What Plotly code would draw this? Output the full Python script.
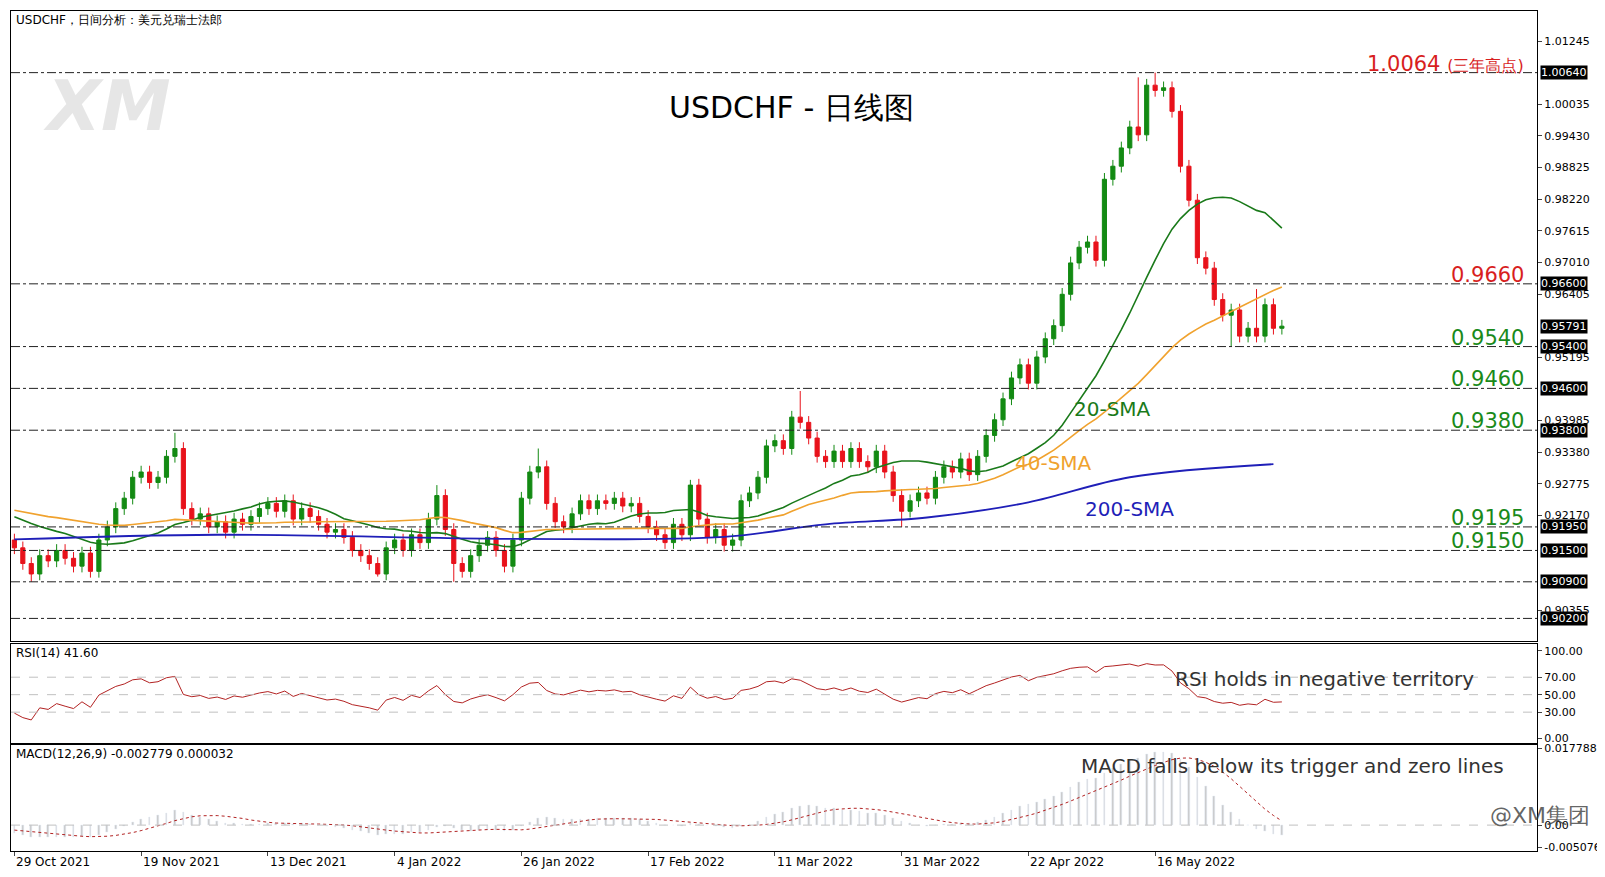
import numpy as np
import plotly.graph_objects as go
from plotly.subplots import make_subplots

prior_closes = [0.9260,0.9250,0.9240,0.9255,0.9245,0.9230,0.9240,0.9250,0.9235,0.9225,
                0.9240,0.9250,0.9260,0.9245,0.9230,0.9240,0.9225,0.9215,0.9230,0.9240,
                0.9250,0.9235,0.9245,0.9255,0.9240,0.9230,0.9220,0.9235,0.9245,0.9230,
                0.9225,0.9215,0.9205,0.9220,0.9210,0.9200,0.9190,0.9185,0.9175,0.9170]
closes = [0.9155,0.9125,0.9105,0.9140,0.9130,0.9150,0.9135,0.9120,0.9145,0.9110,
          0.9170,0.9195,0.9230,0.9250,0.9290,0.9300,0.9280,0.9290,0.9330,0.9345,
          0.9230,0.9210,0.9220,0.9195,0.9205,0.9185,0.9210,0.9200,0.9215,0.9230,
          0.9240,0.9225,0.9245,0.9210,0.9230,0.9215,0.9200,0.9185,0.9190,0.9175,
          0.9150,0.9140,0.9125,0.9105,0.9155,0.9170,0.9150,0.9180,0.9165,0.9210,
          0.9255,0.9190,0.9125,0.9110,0.9140,0.9160,0.9175,0.9150,0.9120,0.9170,
          0.9250,0.9300,0.9310,0.9240,0.9205,0.9195,0.9220,0.9245,0.9230,0.9245,
          0.9240,0.9250,0.9235,0.9240,0.9215,0.9195,0.9180,0.9165,0.9200,0.9180,
          0.9275,0.9210,0.9175,0.9190,0.9160,0.9170,0.9245,0.9260,0.9290,0.9350,
          0.9360,0.9345,0.9405,0.9395,0.9365,0.9330,0.9320,0.9340,0.9320,0.9345,
          0.9320,0.9310,0.9340,0.9300,0.9255,0.9225,0.9245,0.9260,0.9250,0.9290,
          0.9310,0.9300,0.9325,0.9295,0.9330,0.9370,0.9400,0.9440,0.9480,0.9505,
          0.9470,0.9520,0.9555,0.9580,0.9640,0.9700,0.9730,0.9740,0.9705,0.9860,
          0.9885,0.9920,0.9960,0.9945,1.0040,1.0030,1.0035,0.9990,0.9885,0.9820,
          0.9710,0.9690,0.9630,0.9600,0.9610,0.9560,0.9575,0.9560,0.9620,0.9575,
          0.9579]
high_override = {19: 0.9375, 93: 0.9455, 135: 1.0064, 50: 0.9275, 62: 0.9345, 80: 0.9285, 133: 1.0055, 147: 0.9650}
low_override = {2: 0.9090, 43: 0.9100, 52: 0.9090, 105: 0.9195, 144: 0.9540}
wick = 0.0012
sma200_idx = [0, 24, 60, 84, 96, 108, 120, 132, 149]
sma200_val = [0.9171, 0.9180, 0.9172, 0.9176, 0.9200, 0.9213, 0.9242, 0.9290, 0.9315]
levels = [1.0064, 0.9660, 0.9540, 0.9460, 0.9380, 0.9195, 0.9150, 0.9090, 0.9020]
level_text = {1.0064: "1.0064 <span style='font-size:16px'>(三年高点)</span>", 0.9660: "0.9660", 0.9540: "0.9540",
              0.9460: "0.9460", 0.9380: "0.9380", 0.9195: "0.9195", 0.9150: "0.9150"}
price_ticks = [1.01245, 1.00035, 0.99430, 0.98825, 0.98220, 0.97615, 0.97010, 0.96405,
               0.95195, 0.93985, 0.93380, 0.92775, 0.92170, 0.90355]
tick_pos = [0, 15, 30, 45, 60, 75, 90, 105, 120, 135]
tick_labels = ["29 Oct 2021", "19 Nov 2021", "13 Dec 2021", "4 Jan 2022", "26 Jan 2022",
               "17 Feb 2022", "11 Mar 2022", "31 Mar 2022", "22 Apr 2022", "16 May 2022"]

allc = np.array(prior_closes + closes)
n = len(closes)
x = np.arange(n)
opens = [allc[len(prior_closes)-1 + i] for i in range(n)]
highs = [high_override.get(i, max(opens[i], closes[i]) + wick) for i in range(n)]
lows = [low_override.get(i, min(opens[i], closes[i]) - wick) for i in range(n)]

def sma(p):
    s = np.convolve(allc, np.ones(p)/p, mode='full')[:len(allc)]
    return s[len(prior_closes):]
sma20, sma40 = sma(20), sma(40)

d = np.diff(allc)
g = np.where(d > 0, d, 0); l = np.where(d < 0, -d, 0)
ag, al = g[:14].mean(), l[:14].mean(); rsi_all = []
for i in range(14, len(d)):
    ag = (ag*13 + g[i])/14; al = (al*13 + l[i])/14
    rsi_all.append(100 - 100/(1 + ag/max(al, 1e-9)))
rsi = np.array(rsi_all)[-n:]

def ema(a, p):
    k = 2/(p+1); out = [a[0]]
    for v in a[1:]: out.append(out[-1] + k*(v - out[-1]))
    return np.array(out)
macd_all = ema(allc, 12) - ema(allc, 26)
sig_all = np.convolve(macd_all, np.ones(9)/9, mode='full')[:len(allc)]
macd = macd_all[-n:]; sig = sig_all[-n:]

Wpx = 1526
barpx = 8.45
fig = make_subplots(rows=3, cols=1, shared_xaxes=True, vertical_spacing=0.003,
                    row_heights=[632, 99, 106])
fig.add_trace(go.Candlestick(x=x, open=opens, high=highs, low=lows, close=closes,
              increasing=dict(line=dict(color="#138a13", width=1), fillcolor="#138a13"),
              decreasing=dict(line=dict(color="#e8121b", width=1), fillcolor="#e8121b"),
              whiskerwidth=0, showlegend=False), row=1, col=1)
fig.add_trace(go.Scatter(x=x, y=sma20, mode="lines", line=dict(color="#1a7a1a", width=1.6), showlegend=False), row=1, col=1)
fig.add_trace(go.Scatter(x=x, y=sma40, mode="lines", line=dict(color="#f0a22e", width=1.6), showlegend=False), row=1, col=1)
fig.add_trace(go.Scatter(x=sma200_idx, y=sma200_val, mode="lines", line=dict(color="#1f1fb8", width=1.8, shape="spline"), showlegend=False), row=1, col=1)
for lv in levels:
    fig.add_hline(y=lv, line=dict(color="#222", width=1, dash="dashdot"), row=1, col=1)
fig.add_trace(go.Scatter(x=x, y=rsi, mode="lines", line=dict(color="#b22222", width=1), showlegend=False), row=2, col=1)
for lv in [70, 50, 30]:
    fig.add_hline(y=lv, line=dict(color="#c0c0c0", width=1, dash="dash"), row=2, col=1)
fig.add_trace(go.Bar(x=x, y=macd, marker_color="#c8c8c8", width=0.2, showlegend=False), row=3, col=1)
fig.add_trace(go.Scatter(x=x, y=sig, mode="lines", line=dict(color="#b22222", width=1, dash="dot"), showlegend=False), row=3, col=1)
fig.add_hline(y=0, line=dict(color="#c0c0c0", width=1, dash="dash"), row=3, col=1)

xr = [-0.4, Wpx/barpx - 0.4]
ax = dict(showgrid=False, zeroline=False, showline=True, linecolor="black", mirror=True, linewidth=1, automargin=False)
for r in (1, 2, 3):
    fig.update_xaxes(range=xr, showticklabels=False, ticks="", rangeslider_visible=False, **ax, row=r, col=1)
fig.update_xaxes(tickvals=tick_pos, ticks="outside", ticklen=4, row=3, col=1)
tf = dict(size=11)
fig.update_yaxes(side="right", range=[0.89759, 1.01819], tickvals=price_ticks, tickfont=tf,
                 tickformat=".5f", ticks="outside", ticklen=4, **ax, row=1, col=1)
fig.update_yaxes(side="right", range=[-5, 108], tickvals=[100, 70, 50, 30, 0], tickformat=".2f", tickfont=tf,
                 ticks="outside", ticklen=4, **ax, row=2, col=1)
fig.update_yaxes(side="right", range=[-0.0060, 0.0185], tickvals=[0.017788, 0.0, -0.005076], tickfont=tf,
                 ticktext=["0.017788", "0.00", "-0.005076"], ticks="outside", ticklen=4, **ax, row=3, col=1)

ann = []
for p, t in zip(tick_pos, tick_labels):
    ann.append(dict(x=p, y=0, xref="x3", yref="paper", text=t, showarrow=False, xanchor="left",
                    yanchor="top", yshift=-2, font=dict(size=12)))
for lv in levels + [0.95791]:
    ann.append(dict(x=1.002, xref="paper", y=lv, yref="y", text=f"{lv:.5f}", showarrow=False, xanchor="left",
                    bgcolor="black", font=dict(color="white", size=11), borderpad=0))
for lv, t in level_text.items():
    col = "#d81e1e" if lv >= 0.966 else "#1a8a1a"
    ann.append(dict(x=0.993, xref="paper", y=lv, yref="y", text=t, showarrow=False, xanchor="right",
                    yanchor="bottom", yshift=-5, font=dict(color=col, size=21)))
ann += [
    dict(x=0.002, y=1, xref="paper", yref="paper", text="USDCHF，日间分析：美元兑瑞士法郎", showarrow=False,
         xanchor="left", yanchor="top", font=dict(size=12)),
    dict(x=11, y=1.0000, xref="x", yref="y", text="<b><i>XM</i></b>", showarrow=False,
         font=dict(size=70, color="rgba(200,200,200,0.45)")),
    dict(x=92, y=0.9998, xref="x", yref="y", text="USDCHF - 日线图", showarrow=False, font=dict(size=30, color="black")),
    dict(x=130, y=0.9420, xref="x", yref="y", text="20-SMA", showarrow=False, font=dict(size=20, color="#1a7a1a")),
    dict(x=123, y=0.9317, xref="x", yref="y", text="40-SMA", showarrow=False, font=dict(size=20, color="#f0a22e")),
    dict(x=132, y=0.9230, xref="x", yref="y", text="200-SMA", showarrow=False, font=dict(size=20, color="#1f1fb8")),
    dict(x=0.002, y=1, xref="x2 domain", yref="y2 domain", text="RSI(14) 41.60", showarrow=False,
         xanchor="left", yanchor="top", font=dict(size=12)),
    dict(x=173, y=68, xref="x2", yref="y2", text="RSI holds in negative territory", showarrow=False,
         xanchor="right", font=dict(size=20, color="#333")),
    dict(x=0.002, y=1, xref="x3 domain", yref="y3 domain", text="MACD(12,26,9) -0.002779 0.000032", showarrow=False,
         xanchor="left", yanchor="top", font=dict(size=12)),
    dict(x=176.5, y=0.0138, xref="x3", yref="y3", text="MACD falls below its trigger and zero lines", showarrow=False,
         xanchor="right", font=dict(size=20, color="#333")),
    dict(x=1.036, y=0.025, xref="paper", yref="paper", text="@XM集团", showarrow=False, xanchor="right",
         font=dict(size=22, color="rgba(60,60,60,0.8)")),
]
fig.update_layout(width=1605, height=877, margin=dict(l=3, r=76, t=3, b=34, autoexpand=False), plot_bgcolor="white",
                  paper_bgcolor="white", font=dict(family="DejaVu Sans", color="black"), annotations=ann,
                  bargap=0)
fig.write_html("out.html")
